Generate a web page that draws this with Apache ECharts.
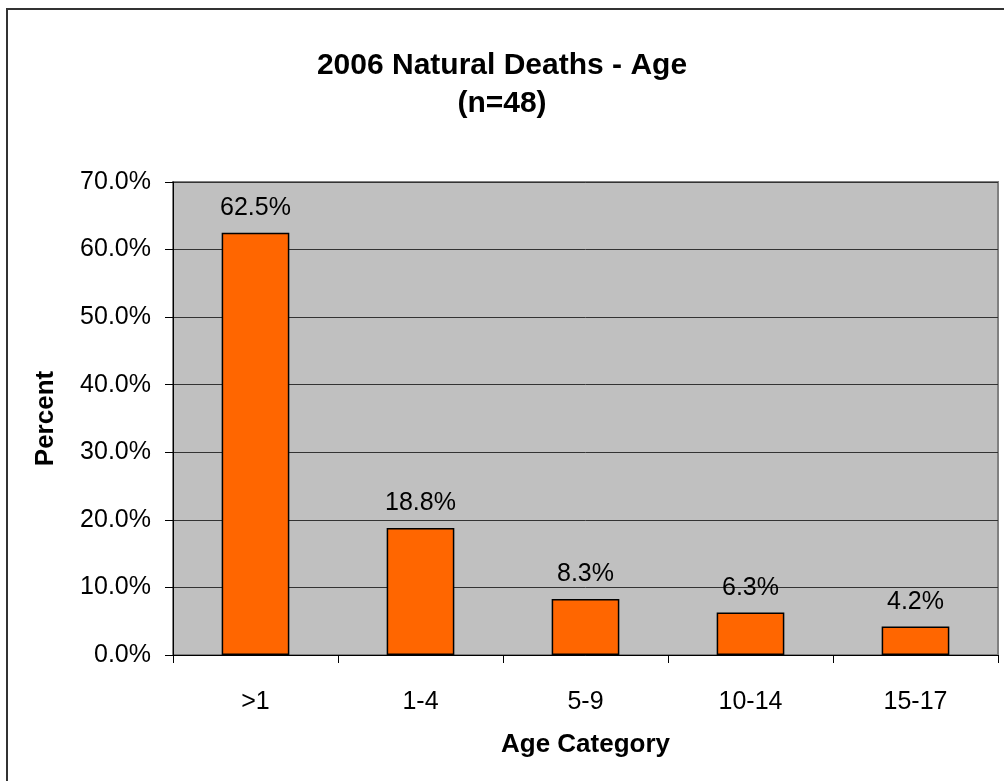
<!DOCTYPE html>
<html>
<head>
<meta charset="utf-8">
<script src="https://cdn.jsdelivr.net/npm/echarts@6/dist/echarts.min.js"></script>
<style>
  html, body { margin: 0; padding: 0; background: #fff; }
  #chart { width: 1004px; height: 781px; }
</style>
</head>
<body>
<div id="chart"></div>
<script>
// data
const categories = [">1", "1-4", "5-9", "10-14", "15-17"];
const percents = [62.5, 18.8, 8.3, 6.3, 4.2];
const yTicks = { min: 0, max: 70, step: 10 };

const font = "Arial, 'Liberation Sans', sans-serif";
const chart = echarts.init(document.getElementById("chart"));

chart.setOption({
  animation: false,
  backgroundColor: "#fff",
  textStyle: { fontFamily: font },
  title: {
    text: "2006 Natural Deaths - Age\n(n=48)",
    left: "center",
    top: 42,
    textStyle: { fontSize: 30, fontWeight: "bold", color: "#000", lineHeight: 38, fontFamily: font }
  },
  // outer chart frame (only left/top edges fall inside the picture)
  graphic: [{
    type: "rect",
    shape: { x: 7, y: 9, width: 1100, height: 900 },
    style: { fill: "none", stroke: "#333", lineWidth: 2 },
    silent: true
  }],
  grid: {
    left: 173, right: 6, top: 182, bottom: 126,
    show: true,
    backgroundColor: "#C0C0C0",
    borderColor: "#808080",
    borderWidth: 2
  },
  xAxis: {
    type: "category",
    data: categories,
    name: "Age Category",
    nameLocation: "middle",
    nameGap: 77,
    nameTextStyle: { fontSize: 26, fontWeight: "bold", color: "#000", fontFamily: font },
    axisLine: { lineStyle: { color: "#000", width: 1 } },
    axisTick: { show: true, length: 8, alignWithLabel: false, lineStyle: { color: "#000" } },
    axisLabel: { fontSize: 25, color: "#000", margin: 35, fontFamily: font },
    splitLine: { show: false }
  },
  yAxis: {
    type: "value",
    min: yTicks.min,
    max: yTicks.max,
    interval: yTicks.step,
    name: "Percent",
    nameLocation: "middle",
    nameRotate: 90,
    nameGap: 114,
    nameTextStyle: { fontSize: 26, fontWeight: "bold", color: "#000", fontFamily: font },
    axisLine: { show: true, lineStyle: { color: "#000", width: 1 } },
    axisTick: { show: true, length: 8, lineStyle: { color: "#000" } },
    axisLabel: {
      fontSize: 25, color: "#000", margin: 22, fontFamily: font,
      formatter: v => v.toFixed(1) + "%"
    },
    splitLine: { show: true, lineStyle: { color: "#333", width: 1 } }
  },
  series: [{
    type: "bar",
    data: percents,
    barCategoryGap: "59%",
    itemStyle: { color: "#FF6600", borderColor: "#000", borderWidth: 1.5 },
    label: {
      show: true,
      position: "top",
      distance: 12,
      fontSize: 25,
      color: "#000",
      fontFamily: font,
      formatter: p => p.value.toFixed(1) + "%"
    }
  }]
});
</script>
</body>
</html>
